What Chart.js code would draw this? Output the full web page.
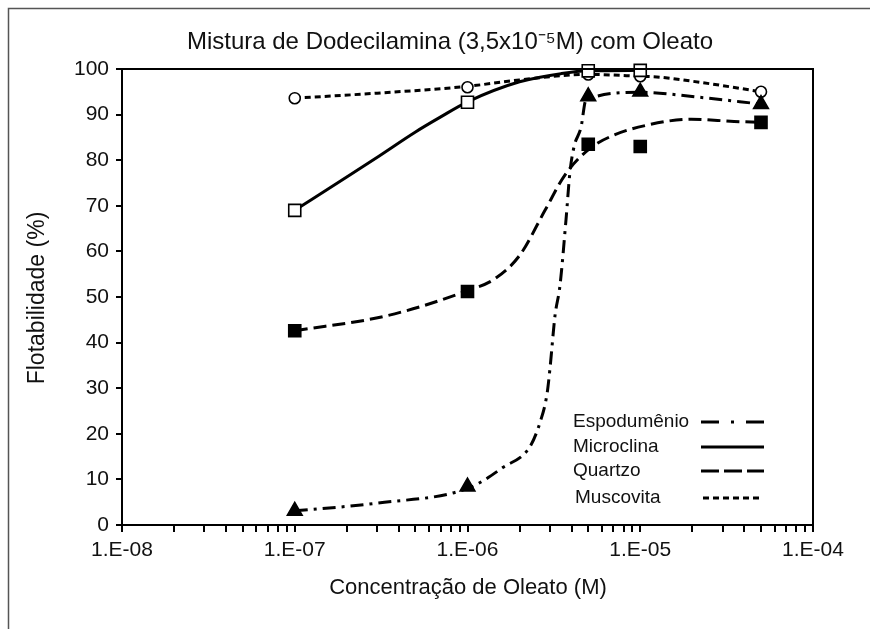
<!DOCTYPE html>
<html><head><meta charset="utf-8">
<script src="https://cdn.jsdelivr.net/npm/chart.js@4.4.0/dist/chart.umd.min.js"></script>
<style>html,body{margin:0;padding:0;background:#fff}canvas{display:block}</style>
</head><body>
<canvas id="c" width="870" height="629"></canvas>
<script>
// ---- measured points ----
const concentrations = [1e-7, 1e-6, 5e-6, 1e-5, 5e-5];
const espodumenio = [3.1, 8.4, 94, 95, 92.3];
const microclina = [69, 92.7, 99.6, 99.7, null];
const quartzo = [42.6, 51.2, 83.5, 83, 88.3];
const muscovita = [93.6, 96, 98.8, 98.4, 95];
// ---- fitted curves ----
const espCurveX = [1e-7, 3e-7, 1.03e-6, 1.6e-6, 2.3e-6, 2.63e-6, 2.885e-6, 3.0e-6, 3.21e-6, 3.43e-6, 3.72e-6, 3.92e-6, 4.14e-6, 4.54e-6, 4.85e-6, 1e-5, 2.2e-5, 5e-5];
const espCurveY = [3.1, 4.8, 8.2, 12.6, 17.2, 22.5, 28.7, 34.2, 45.9, 52.5, 67.1, 77.5, 83, 87.2, 93.2, 94.9, 93.8, 92.3];
const micCurveX = [1e-7, 2e-7, 3.1e-7, 5e-7, 7e-7, 1e-6, 2e-6, 3.5e-6, 5e-6, 1e-5];
const micCurveY = [69, 76.3, 81, 86.2, 89.5, 92.8, 97.2, 99, 99.6, 99.7];
const quaCurveX = [1e-7, 3.42e-7, 1e-6, 1.44e-6, 2.01e-6, 2.81e-6, 3.67e-6, 5.12e-6, 7.14e-6, 1.07e-5, 1.97e-5, 3.49e-5, 5e-5];
const quaCurveY = [42.6, 45.9, 51.4, 54, 59.2, 69, 76.8, 82.6, 85.6, 87.6, 89, 88.5, 88.3];
const musCurveX = [1e-7, 3e-7, 1e-6, 2e-6, 5e-6, 1e-5, 1.3e-5, 2.2e-5, 3.44e-5, 5e-5];
const musCurveY = [93.6, 94.7, 96.2, 97.6, 98.8, 98.4, 98.2, 97.1, 96, 95];
// ---- ticks / labels ----
const xDecades = [1e-8, 1e-7, 1e-6, 1e-5, 1e-4];
const xTickLabels = ['1.E-08', '1.E-07', '1.E-06', '1.E-05', '1.E-04'];
const yTicks = [0, 10, 20, 30, 40, 50, 60, 70, 80, 90, 100];
const seriesNames = ['Espodumênio', 'Microclina', 'Quartzo', 'Muscovita'];
const chartTitle = 'Mistura de Dodecilamina (3,5x10⁻⁵M) com Oleato';
const xTitle = 'Concentração de Oleato (M)';
const yTitle = 'Flotabilidade (%)';

const FONT = 'Liberation Sans, Arial, sans-serif';
const pairs = (xs, ys) => xs.map((x, i) => ({x, y: ys[i]})).filter(p => p.y !== null);

const DASH = {
  esp: [13, 6, 3, 6],
  mic: [],
  qua: [13, 6],
  mus: [6, 4]
};

function curve(xs, ys, dash) {
  return {type: 'line', data: pairs(xs, ys), borderColor: '#000', borderWidth: 3,
    borderDash: dash, pointRadius: 0, fill: false, cubicInterpolationMode: 'monotone', order: 2, clip: false};
}
function marks(ys, style, r, filled) {
  return {type: 'scatter', data: pairs(concentrations, ys), showLine: false,
    pointStyle: style, pointRadius: r, pointHoverRadius: r,
    pointBackgroundColor: filled ? '#000' : '#fff', pointBorderColor: '#000', pointBorderWidth: 1.6,
    order: 1, clip: false};
}

const decor = {
  id: 'decor',
  beforeDraw(chart) {
    const c = chart.ctx;
    c.save();
    c.fillStyle = '#fff';
    c.fillRect(0, 0, chart.width, chart.height);
    c.strokeStyle = '#555';
    c.lineWidth = 1.5;
    c.beginPath();
    c.moveTo(8.5, chart.height);
    c.lineTo(8.5, 8.5);
    c.lineTo(chart.width, 8.5);
    c.stroke();
    c.restore();
  },
  afterDraw(chart) {
    const c = chart.ctx, a = chart.chartArea;
    c.save();
    c.strokeStyle = '#000';
    c.lineWidth = 2;
    c.strokeRect(a.left, a.top, a.right - a.left, a.bottom - a.top);
    c.fillStyle = '#111';
    c.textBaseline = 'middle';
    c.textAlign = 'center';
    c.font = '24px ' + FONT;
    c.fillText(chartTitle, 450, 42);
    c.font = '22px ' + FONT;
    c.fillText(xTitle, 468, 588);
    c.save();
    c.translate(38, 298);
    c.rotate(-Math.PI / 2);
    c.font = '23px ' + FONT;
    c.fillText(yTitle, 0, 0);
    c.restore();
    // legend
    c.textAlign = 'left';
    c.font = '19px ' + FONT;
    const rows = [
      {name: seriesNames[0], tx: 573, y: 422, x0: 701, x1: 764, dash: [18, 12, 3, 12]},
      {name: seriesNames[1], tx: 573, y: 447, x0: 701, x1: 764, dash: []},
      {name: seriesNames[2], tx: 573, y: 471, x0: 701, x1: 764, dash: [18, 5]},
      {name: seriesNames[3], tx: 575, y: 498, x0: 703, x1: 760, dash: [6, 4]}
    ];
    rows.forEach(r => {
      c.fillText(r.name, r.tx, r.y);
      c.beginPath();
      c.setLineDash(r.dash);
      c.lineWidth = 3;
      c.moveTo(r.x0, r.y);
      c.lineTo(r.x1, r.y);
      c.stroke();
    });
    c.restore();
  }
};

new Chart(document.getElementById('c'), {
  data: {
    datasets: [
      curve(espCurveX, espCurveY, DASH.esp),
      curve(micCurveX, micCurveY, DASH.mic),
      curve(quaCurveX, quaCurveY, DASH.qua),
      curve(musCurveX, musCurveY, DASH.mus),
      marks(espodumenio, 'triangle', 8.5, true),
      marks(microclina, 'rect', 8.5, false),
      marks(quartzo, 'rect', 8.5, true),
      marks(muscovita, 'circle', 5.5, false)
    ]
  },
  options: {
    responsive: false,
    animation: false,
    events: [],
    layout: {padding: {left: 0, top: 69, right: 57, bottom: 0}},
    plugins: {legend: {display: false}, title: {display: false}, tooltip: {enabled: false}},
    scales: {
      x: {
        type: 'logarithmic', min: 1e-8, max: 1e-4,
        afterFit(s) { s.height = 104; },
        afterBuildTicks(s) {
          const t = [];
          xDecades.forEach((d, i) => {
            t.push({value: d, major: true});
            if (i < xDecades.length - 1) for (let k = 2; k <= 9; k++) t.push({value: d * k});
          });
          s.ticks = t;
        },
        ticks: {
          autoSkip: false, maxRotation: 0, minRotation: 0, padding: 6,
          color: '#111', font: {family: FONT, size: 21},
          callback(v) { const i = xDecades.findIndex(d => Math.abs(d - v) / d < 1e-6); return i >= 0 ? xTickLabels[i] : ''; }
        },
        grid: {display: true, drawOnChartArea: false, drawTicks: true, tickLength: 7, color: '#000', lineWidth: 2},
        border: {display: true, color: '#000', width: 2}
      },
      y: {
        min: 0, max: 100,
        afterFit(s) { s.width = 122; },
        afterBuildTicks(s) { s.ticks = yTicks.map(v => ({value: v})); },
        ticks: {padding: 7, color: '#111', font: {family: FONT, size: 21}},
        grid: {display: true, drawOnChartArea: false, drawTicks: true, tickLength: 6, color: '#000', lineWidth: 2},
        border: {display: true, color: '#000', width: 2}
      }
    }
  },
  plugins: [decor]
});
</script>
</body></html>
